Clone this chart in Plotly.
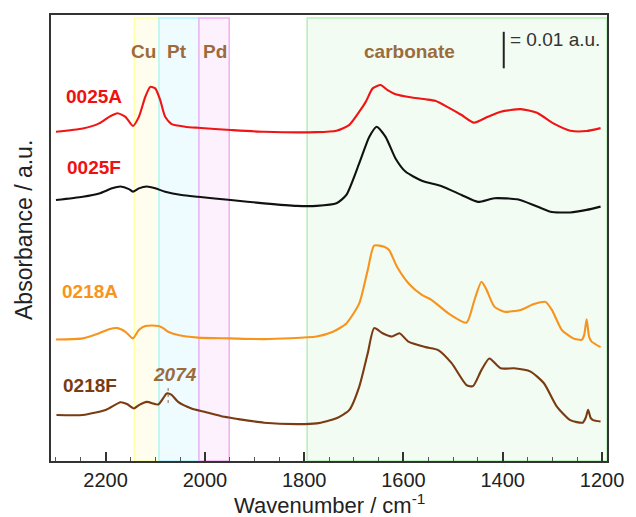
import plotly.graph_objects as go

# ---------------- data (wavenumber in cm-1, absorbance in a.u., stacked) ----------------
wn_0025A = [2300, 2246, 2213, 2193, 2176, 2160, 2145, 2133, 2120, 2110, 2100, 2090, 2080, 2067, 2040,
            2014, 1948, 1881, 1775, 1735, 1709, 1689, 1676, 1662, 1646, 1632, 1616, 1583, 1556, 1536,
            1510, 1483, 1458, 1430, 1404, 1364, 1331, 1298, 1264, 1231, 1203]
abs_0025A = [0.0902, 0.0911, 0.0925, 0.0943, 0.0953, 0.0943, 0.0918, 0.0943, 0.0998, 0.1025, 0.1021,
             0.0989, 0.0943, 0.0923, 0.0916, 0.0913, 0.0907, 0.0902, 0.0901, 0.0905, 0.0921, 0.0957,
             0.0984, 0.1021, 0.1030, 0.1016, 0.1005, 0.0996, 0.0991, 0.0987, 0.0969, 0.0948, 0.0927,
             0.0943, 0.0957, 0.0964, 0.0954, 0.0925, 0.0905, 0.0904, 0.0912]

wn_0025F = [2300, 2246, 2213, 2187, 2170, 2153, 2145, 2133, 2117, 2100, 2080, 2047, 2014, 1948, 1881,
            1815, 1775, 1735, 1715, 1689, 1669, 1654, 1636, 1616, 1596, 1563, 1523, 1483, 1450, 1417,
            1371, 1337, 1304, 1264, 1231, 1203]
abs_0025F = [0.0715, 0.0724, 0.0733, 0.0747, 0.0752, 0.0745, 0.0738, 0.0747, 0.0752, 0.0747, 0.0738,
             0.0729, 0.0724, 0.0715, 0.0706, 0.0699, 0.0699, 0.0706, 0.0729, 0.0816, 0.0888, 0.0916,
             0.0888, 0.0829, 0.0793, 0.0768, 0.0753, 0.0729, 0.0710, 0.0720, 0.0717, 0.0701, 0.0683,
             0.0681, 0.0688, 0.0697]

wn_0218A = [2300, 2246, 2213, 2193, 2176, 2160, 2145, 2133, 2120, 2093, 2084, 2074, 2054, 2014, 1948,
            1881, 1775, 1742, 1715, 1689, 1672, 1659, 1639, 1629, 1613, 1590, 1563, 1543, 1510, 1473,
            1457, 1443, 1434, 1417, 1397, 1364, 1337, 1314, 1301, 1281, 1258, 1241, 1236, 1231, 1226,
            1221, 1203]
abs_0218A = [0.0333, 0.0336, 0.0350, 0.0361, 0.0364, 0.0354, 0.0336, 0.0359, 0.0370, 0.0370, 0.0364,
             0.0354, 0.0345, 0.0338, 0.0336, 0.0334, 0.0341, 0.0354, 0.0377, 0.0432, 0.0523, 0.0590,
             0.0587, 0.0578, 0.0532, 0.0487, 0.0455, 0.0441, 0.0405, 0.0379, 0.0441, 0.0491, 0.0473,
             0.0423, 0.0409, 0.0414, 0.0430, 0.0436, 0.0414, 0.0359, 0.0336, 0.0332, 0.0345, 0.0388,
             0.0340, 0.0327, 0.0312]

wn_0218F = [2299, 2246, 2200, 2170, 2157, 2143, 2133, 2117, 2094, 2084, 2077, 2067, 2054, 2027, 2001,
            1961, 1934, 1881, 1815, 1775, 1735, 1709, 1689, 1672, 1659, 1642, 1623, 1608, 1590, 1556,
            1530, 1503, 1473, 1460, 1443, 1427, 1404, 1377, 1344, 1317, 1291, 1264, 1239, 1233, 1228,
            1223, 1218, 1203]
abs_0218F = [0.0126, 0.0126, 0.0140, 0.0161, 0.0156, 0.0144, 0.0153, 0.0162, 0.0155, 0.0172, 0.0185,
             0.0181, 0.0162, 0.0144, 0.0135, 0.0121, 0.0115, 0.0105, 0.0101, 0.0103, 0.0117, 0.0140,
             0.0204, 0.0295, 0.0364, 0.0350, 0.0341, 0.0350, 0.0327, 0.0312, 0.0304, 0.0268, 0.0208,
             0.0205, 0.0249, 0.0281, 0.0254, 0.0254, 0.0245, 0.0213, 0.0149, 0.0112, 0.0105, 0.0118,
             0.0140, 0.0118, 0.0112, 0.0108]

series_names = ["0025A", "0025F", "0218A", "0218F"]
label_wn = [2223, 2224, 2231, 2231]
label_abs = [0.0998, 0.0805, 0.0464, 0.0208]

band_names = ["Cu", "Pt", "Pd", "carbonate"]
band_lo = [2142, 2092.5, 2012, 1794]
band_hi = [2092.5, 2012, 1951, 1190]
band_label_wn = [2124, 2056, 1980, 1588]

x_range = [2310, 1190]
y_range = [0, 0.1222]
x_ticks = [2200, 2000, 1800, 1600, 1400, 1200]
scale_bar = 0.01
peak_2074 = 2074

# ---------------- styles ----------------
line_colors = ["#f01414", "#111111", "#f7941d", "#7a3a12"]
label_colors = ["#ee1111", "#ee1111", "#f7941d", "#7a3a12"]
band_fill = ["#fffdee", "#effcff", "#fcf1fc", "#f2fcf2"]
band_line = ["#ffffa8", "#aef4ff", "#f2b0f2", "#b8eeb8"]
tan = "#9c6b3c"
FONT = "Liberation Sans, Arial, sans-serif"

fig = go.Figure()

band_top = 0.1214
for lo, hi, fc, lc in zip(band_lo, band_hi, band_fill, band_line):
    fig.add_shape(type="rect", xref="x", yref="y", x0=lo, x1=hi, y0=0, y1=band_top,
                  fillcolor=fc, line=dict(color=lc, width=1.5), layer="below")

for name, wn, ab, col in zip(series_names,
                              [wn_0025A, wn_0025F, wn_0218A, wn_0218F],
                              [abs_0025A, abs_0025F, abs_0218A, abs_0218F],
                              line_colors):
    fig.add_trace(go.Scatter(x=wn, y=ab, mode="lines", name=name,
                             line=dict(color=col, width=2.1, shape="spline", smoothing=0.6),
                             showlegend=False, hoverinfo="skip"))

for name, xw, ya, col in zip(series_names, label_wn, label_abs, label_colors):
    fig.add_annotation(x=xw, y=ya, xref="x", yref="y", text="<b>%s</b>" % name, showarrow=False,
                       font=dict(family=FONT, size=19, color=col), xanchor="center", yanchor="middle")

for name, xw in zip(band_names, band_label_wn):
    fig.add_annotation(x=xw, y=0.1121, xref="x", yref="y", text="<b>%s</b>" % name, showarrow=False,
                       font=dict(family=FONT, size=19, color=tan), xanchor="center", yanchor="middle")

# scale bar
fig.add_shape(type="line", xref="x", yref="y", x0=1398, x1=1398, y0=0.1176 - scale_bar, y1=0.1176,
              line=dict(color="#222222", width=2))
fig.add_annotation(x=1389, y=0.1156, xref="x", yref="y", text="= %.2f a.u." % scale_bar, showarrow=False,
                   font=dict(family=FONT, size=19, color="#333333"), xanchor="left", yanchor="middle")

# 2074 marker
fig.add_shape(type="line", xref="x", yref="y", x0=peak_2074, x1=peak_2074, y0=0.0159, y1=0.0205,
              line=dict(color="#a08060", width=1.2, dash="dot"))
fig.add_annotation(x=2061, y=0.0236, xref="x", yref="y", text="<b><i>%d</i></b>" % peak_2074,
                   showarrow=False, font=dict(family=FONT, size=19, color=tan),
                   xanchor="center", yanchor="middle")

# axis titles
fig.add_annotation(x=0.5, y=0, xref="paper", yref="paper", yshift=-43, borderpad=0,
                   text="Wavenumber / cm<sup>-1</sup>", showarrow=False,
                   font=dict(family=FONT, size=22, color="#222222"), xanchor="center", yanchor="middle")
fig.add_annotation(x=0, y=0.5, xref="paper", yref="paper", xshift=-27, yshift=8,
                   text="Absorbance / a.u.", textangle=-90, showarrow=False,
                   font=dict(family=FONT, size=23, color="#222222"), xanchor="center", yanchor="middle")

fig.update_xaxes(range=x_range, tickvals=x_ticks, ticktext=[str(t) for t in x_ticks],
                 ticks="inside", ticklen=9, tickwidth=1.5, tickcolor="#333333",
                 minor=dict(dtick=50, tick0=2300, ticks="inside", ticklen=4, tickwidth=1, tickcolor="#555555"),
                 showline=True, linecolor="#333333", linewidth=2, mirror=True,
                 showgrid=False, zeroline=False,
                 tickfont=dict(family=FONT, size=20, color="#222222"))
fig.update_yaxes(range=y_range, showticklabels=False, ticks="",
                 showline=True, linecolor="#333333", linewidth=2, mirror=True,
                 showgrid=False, zeroline=False)

fig.update_layout(width=636, height=517, margin=dict(l=51, r=22, t=15, b=56),
                  plot_bgcolor="white", paper_bgcolor="white",
                  font=dict(family=FONT))

fig.write_html("out.html", config={"displayModeBar": False},
               post_script="document.body.style.margin='0';document.body.style.overflow='hidden';")
